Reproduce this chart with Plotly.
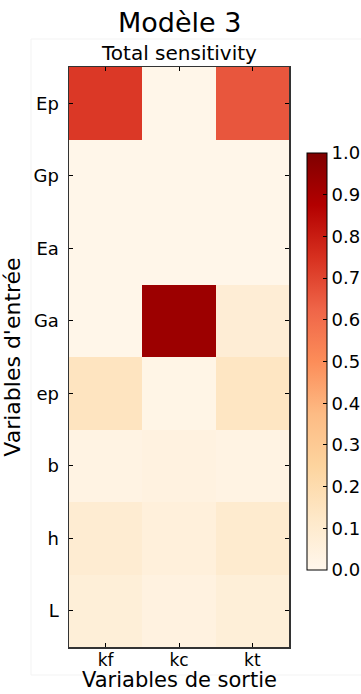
import plotly.graph_objects as go

outputs = ["kf", "kc", "kt"]
inputs = ["Ep", "Gp", "Ea", "Ga", "ep", "b", "h", "L"]
# total sensitivity values, rows = inputs (top to bottom), cols = outputs
sens_kf = [0.73, 0.01, 0.01, 0.01, 0.15, 0.03, 0.09, 0.07]
sens_kc = [0.01, 0.01, 0.01, 0.93, 0.02, 0.04, 0.06, 0.04]
sens_kt = [0.66, 0.01, 0.01, 0.08, 0.14, 0.03, 0.10, 0.07]

z = [[sens_kf[i], sens_kc[i], sens_kt[i]] for i in range(len(inputs))]

W, H = 361, 694
# plot area in page pixels: x 69..289, y 67..647
L_, R_, T_, B_ = 69, W - 289, 67, H - 647
ph = H - T_ - B_
pw = W - L_ - R_

def py(page_y):  # page pixel y -> paper y
    return (H - B_ - page_y) / ph

def pxx(page_x):
    return (page_x - L_) / pw

font = "DejaVu Sans"

fig = go.Figure(go.Heatmap(
    z=z, x=outputs, y=inputs,
    colorscale="OrRd", zmin=0, zmax=1,
    xgap=0, ygap=0,
    hoverinfo="skip",
    colorbar=dict(
        x=pxx(307), xanchor="left", xref="paper",
        y=py(361.5), yanchor="middle", yref="paper",
        len=417 / ph, lenmode="fraction",
        thickness=20, thicknessmode="pixels",
        outlinecolor="black", outlinewidth=1,
        tickvals=[i / 10 for i in range(11)],
        ticktext=[f"{i/10:.1f}" for i in range(11)],
        ticks="inside", ticklen=4, tickcolor="black",
        tickfont=dict(family=font, size=18, color="black"),
        xpad=0, ypad=0,
    ),
))

fig.update_layout(
    width=W, height=H,
    margin=dict(l=L_, r=R_, t=T_, b=B_, autoexpand=False),
    paper_bgcolor="white", plot_bgcolor="white",
    font=dict(family=font, color="black"),
    xaxis=dict(
        tickfont=dict(size=17, family=font),
        ticklabelstandoff=-3,
        ticks="inside", ticklen=4, tickcolor="black",
        showline=True, linecolor="#333333", linewidth=1.5, mirror="ticks",
        showgrid=False, zeroline=False, automargin=False,
    ),
    yaxis=dict(
        title=dict(text="Variables d'entrée", font=dict(size=22, family=font), standoff=10),
        tickfont=dict(size=18, family=font),
        ticklabelstandoff=5,
        autorange="reversed",
        ticks="inside", ticklen=4, tickcolor="black",
        showline=True, linecolor="#333333", linewidth=1.5, mirror="ticks",
        showgrid=False, zeroline=False, automargin=False,
    ),
    annotations=[
        dict(text="Modèle 3", x=0.5, y=py(40), xref="paper", yref="paper",
             xanchor="center", yanchor="bottom", showarrow=False,
             font=dict(size=27, family=font, color="black")),
        dict(text="Total sensitivity", x=0.5, y=py(67), xref="paper", yref="paper",
             xanchor="center", yanchor="bottom", showarrow=False,
             font=dict(size=20, family=font, color="black")),
        dict(text="Variables de sortie", x=0.5, y=py(694), xref="paper", yref="paper",
             xanchor="center", yanchor="bottom", showarrow=False,
             font=dict(size=21, family=font, color="black")),
    ],
    shapes=[
        dict(type="rect", xref="paper", yref="paper",
             x0=pxx(31), x1=pxx(370), y0=py(675), y1=py(39),
             line=dict(color="#f3f3f3", width=1), layer="below"),
    ],
)

fig.write_html(
    "out.html",
    config={"displayModeBar": False, "staticPlot": True},
    post_script="document.body.style.margin='0';document.body.style.overflow='hidden';",
)
